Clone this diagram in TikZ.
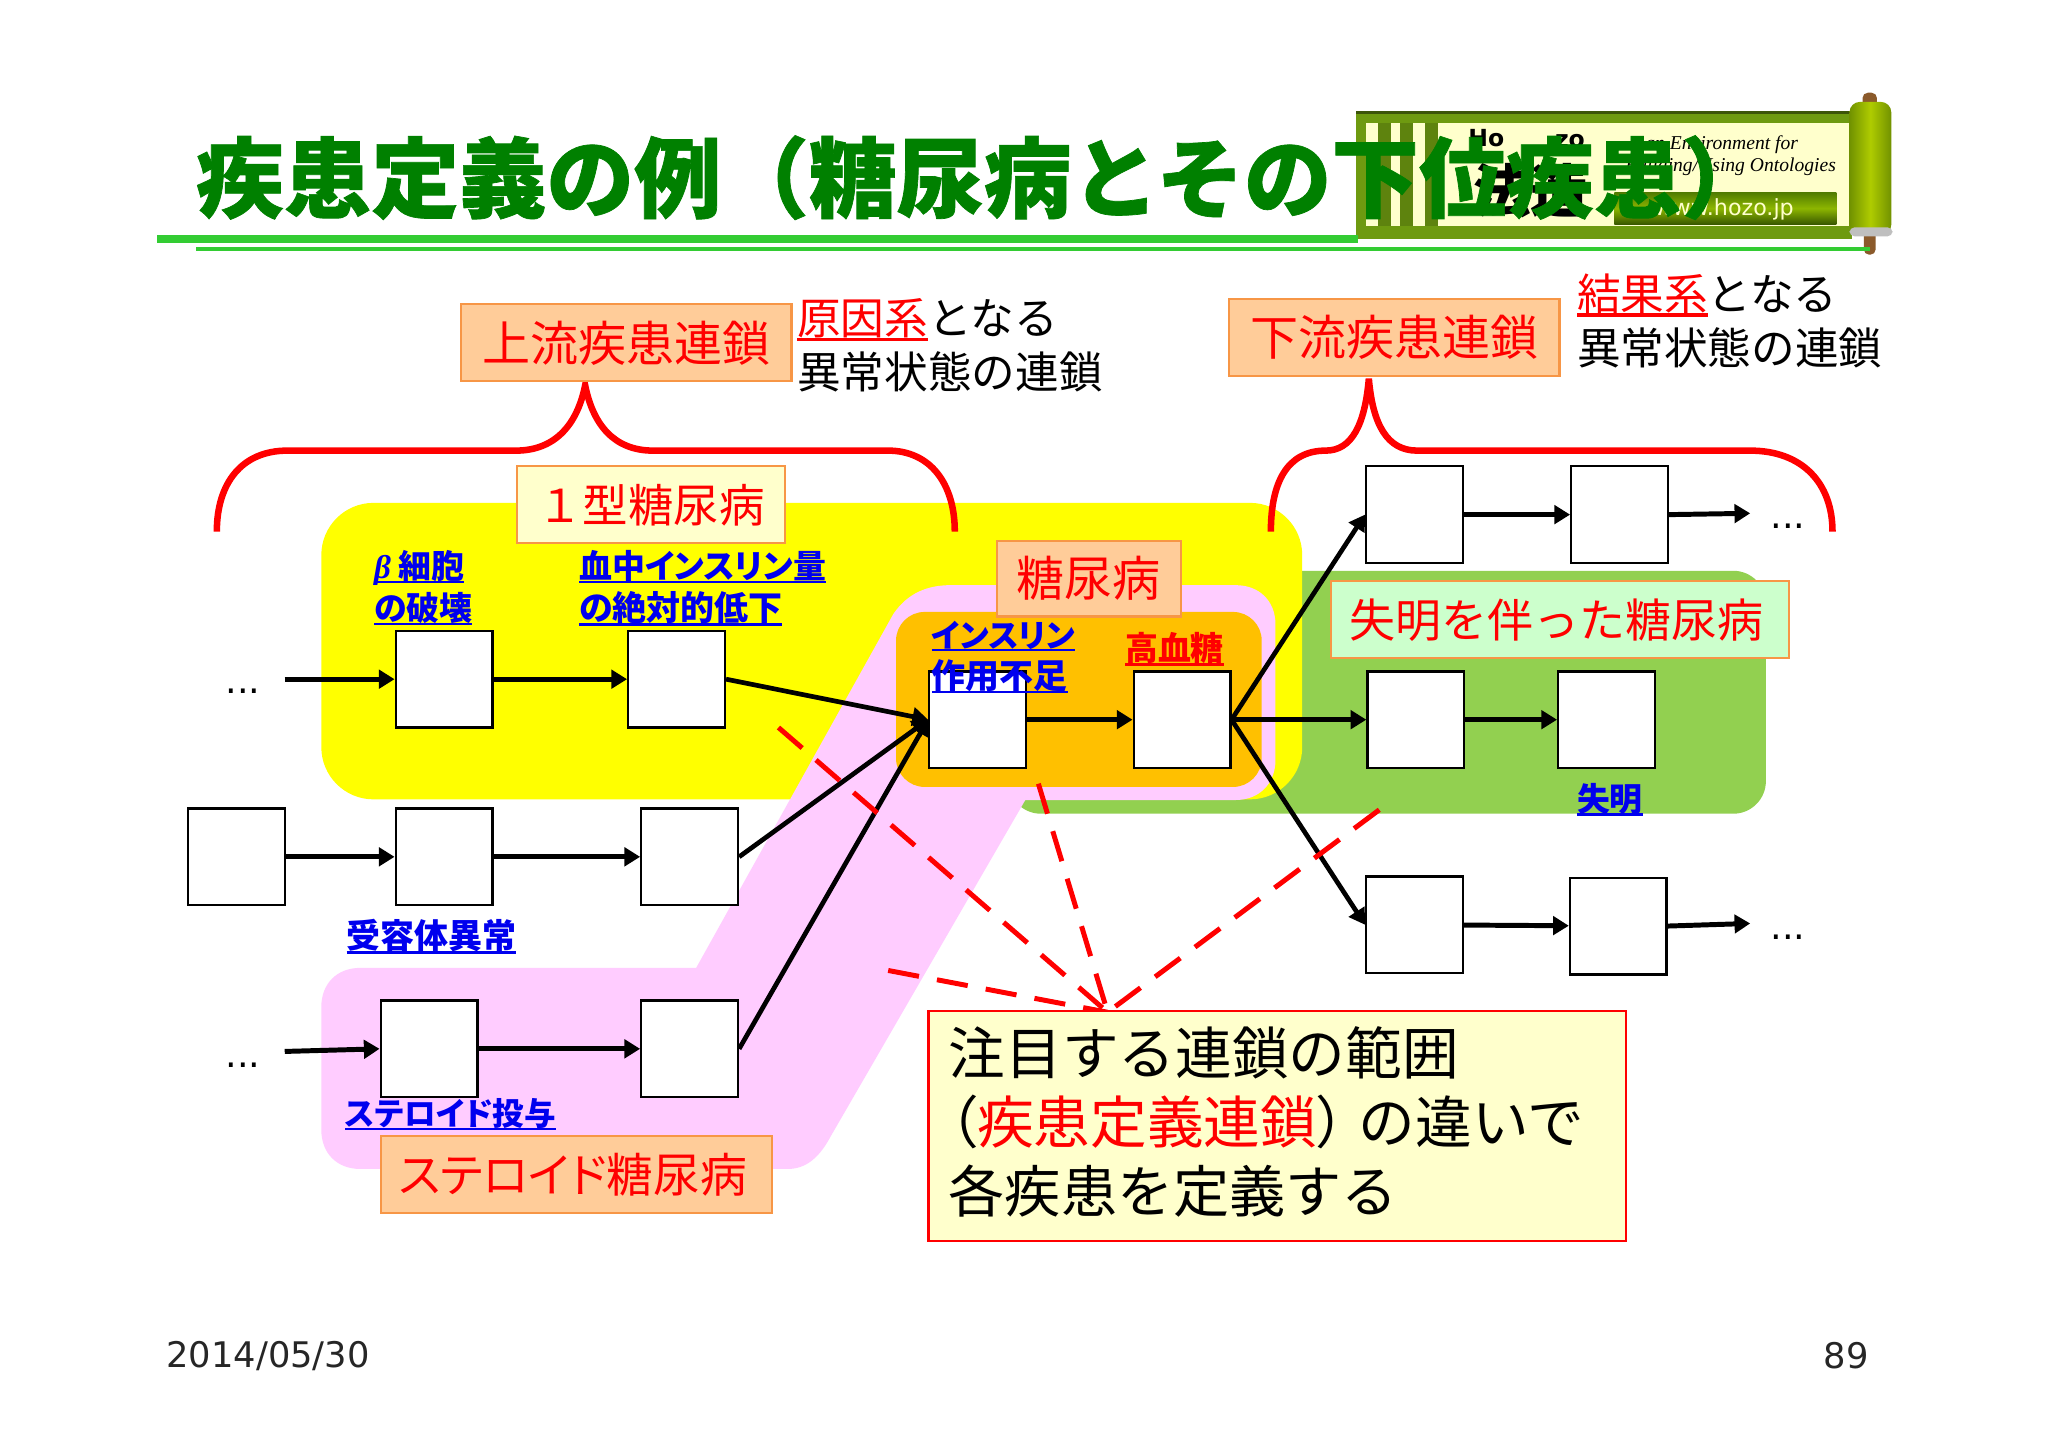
\documentclass[tikz,border=0pt]{standalone}
\usepackage{fontspec}
\usetikzlibrary{arrows.meta,calc}
\setmainfont{Noto Sans CJK JP}
\newfontfamily\jp{Noto Sans CJK JP}
\newfontfamily\ttlfont[BoldFeatures={FakeBold=0.8}]{Noto Sans CJK JP}
\newfontfamily\jpp[CharacterWidth=AlternateProportional]{Noto Sans CJK JP}
\newfontfamily\djv{DejaVu Sans}
\newfontfamily\lserif{Liberation Serif}
\newcommand\ulx[1]{\leavevmode\setbox0\hbox{#1}\rlap{\raisebox{-0.14em}{\rule{\wd0}{0.075em}}}\box0}
\definecolor{cyell}{HTML}{FFFF00}
\definecolor{cgreen}{HTML}{92D050}
\definecolor{cpink}{HTML}{FFCCFF}
\definecolor{corange}{HTML}{FFC000}
\definecolor{clabel}{HTML}{FFCC99}
\definecolor{cedge}{HTML}{F79646}
\definecolor{ccream}{HTML}{FFFFCC}
\definecolor{cmint}{HTML}{CCFFCC}
\definecolor{ctitle}{HTML}{008000}
\definecolor{cline}{HTML}{33CC33}
\definecolor{colive}{HTML}{6E9A10}
\definecolor{croll}{HTML}{8DB600}
\definecolor{cdark}{HTML}{4E7A00}
\definecolor{cblue}{HTML}{0000EE}
\definecolor{crod}{HTML}{8B5A2B}
\tikzset{
  bx/.style={draw=black,fill=white,line width=0.9pt,minimum size=37pt,inner sep=0pt},
  lab/.style={draw=cedge,line width=0.8pt,fill=clabel,inner sep=0pt,text=red,font=\jp\fontsize{18.4}{18.4}\selectfont,align=center},
  blue/.style={text=cblue,font=\jpp\bfseries\fontsize{12.6}{15.5}\selectfont,inner sep=0pt,anchor=west,align=left},
  plain/.style={inner sep=0pt,anchor=west,font=\jp\fontsize{16.7}{20}\selectfont,align=left},
  con/.style={line width=1.9pt,-{Triangle[length=6pt,width=7pt]}},
  dia/.style={line width=1.8pt,-{Triangle[length=6pt,width=7pt]}},
  ref/.style={draw=red,line width=1.9pt,dash pattern=on 12pt off 7pt},
  brace/.style={draw=red,line width=2.5pt},
  dots/.style={inner sep=0pt,anchor=base,font=\djv\fontsize{14}{14}\selectfont},
  foot/.style={inner sep=0pt,text=black!85,font=\djv\fontsize{13.5}{13.5}\selectfont},
}
\begin{document}
\begin{tikzpicture}[x=0.5pt,y=-0.5pt]
\useasboundingbox (0,0) rectangle (1568,1108.6);
\fill[white] (0,0) rectangle (1568,1108.6);

% logo scroll
\fill[colive] (1038,85) rectangle (1418,183);
\fill[ccream] (1046,94) rectangle (1416,173);
\fill[black!45!colive] (1038,85) rectangle (1418,87);
\foreach \bx in {1060,1077,1096}{\fill[colive!85!black] (\bx-5,94) rectangle (\bx+5,173);}
\node[inner sep=0pt,font=\djv\bfseries\fontsize{9}{9}\selectfont] (hoa) at (1138,106) {Ho};
\node[inner sep=0pt,font=\djv\bfseries\fontsize{9}{9}\selectfont] (hob) at (1202,108) {zo};
\node[inner sep=0pt,font=\jp\bfseries\fontsize{22}{22}\selectfont] (hoc) at (1172,146) {法造};
\node[inner sep=0pt,anchor=east,font=\lserif\itshape\fontsize{7.5}{7.5}\selectfont] (hod) at (1377,111) {an Environment for};
\node[inner sep=0pt,anchor=east,font=\lserif\itshape\fontsize{7.5}{7.5}\selectfont] (hoe) at (1406,128) {Building/Using Ontologies};
\shade[top color=cdark,bottom color=cdark!70!black,middle color=croll] (1236,147) rectangle (1406,172);
\node[inner sep=0pt,text=ccream,font=\djv\fontsize{8.5}{8.5}\selectfont] (hof) at (1320,160) {www.hozo.jp};
\fill[crod,rounded corners=2pt] (1426,71) rectangle (1437,84);
\fill[crod,rounded corners=2pt] (1427,176) rectangle (1436,195);
\shade[left color=croll!80!black,right color=croll!80!black,middle color=croll!70!yellow,rounded corners=4pt] (1416,78) rectangle (1448,180);
\fill[black!25,rounded corners=2pt] (1416,174) rectangle (1449,181);

% title and rules
\fill[cline] (120,180) rectangle (1040,186);
\fill[cline] (150,189) rectangle (1432,192);
\node[inner sep=0pt,anchor=west,text=ctitle,font=\ttlfont\bfseries\fontsize{33.5}{34}\selectfont] (title) at (150,136) {疾患定義の例（糖尿病とその下位疾患）};

% regions
\fill[cgreen,rounded corners=12.5pt] (772,437) rectangle (1352,623);
\fill[cyell,rounded corners=20pt] (246,385) rectangle (997,612);
\fill[cpink] (533,741) -- (276,741) .. controls (258,741) and (246,753) .. (246,771) -- (246,865) .. controls (246,883) and (258,895) .. (276,895) -- (603,895) .. controls (618,895) and (628,885) .. (636,870) -- (785,612.5) -- (946,612.5) .. controls (964,612.5) and (976.5,600) .. (976.5,582) -- (976.5,478) .. controls (976.5,460) and (964,448) .. (946,448) -- (728,448) .. controls (710,448) and (695,454) .. (684,470) -- cycle;
\fill[corange,rounded corners=11pt] (686,468.5) rectangle (966,602.5);

% boxes
\node[bx] (n1) at (340,520) {};
\node[bx] (n2) at (518,520) {};
\node[bx] (n3) at (748.5,551) {};
\node[bx] (n4) at (905,551) {};
\node[bx] (r1) at (181,656) {};
\node[bx] (r2) at (340,656) {};
\node[bx] (r3) at (528,656) {};
\node[bx] (s1) at (328.5,803) {};
\node[bx] (s2) at (528,803) {};
\node[bx] (u1) at (1083,394) {};
\node[bx] (u2) at (1240,394) {};
\node[bx] (m1) at (1084,551) {};
\node[bx] (m2) at (1230,551) {};
\node[bx] (d1) at (1083,708) {};
\node[bx] (d2) at (1239,709) {};
\coordinate (a0) at (218,520);
\coordinate (b0) at (218,805);
\coordinate (u3) at (1340,393);
\coordinate (d3) at (1340,707);

% connectors
\draw[con] (a0) -- (n1.west);
\draw[con] (n1) -- (n2);
\draw[con] (r1) -- (r2);
\draw[con] (r2) -- (r3);
\draw[con] (b0) -- (s1.west);
\draw[con] (s1) -- (s2);
\draw[con] (n3) -- (n4);
\draw[con] (u1) -- (u2);
\draw[con] (u2.east) -- (u3);
\draw[con] (m1) -- (m2);
\draw[con] (d1) -- (d2);
\draw[con] (d2.east) -- (d3);
\draw[dia] (n2.east) -- (n3.west);
\draw[dia] (r3.east) -- (n3.west);
\draw[dia] (s2.east) -- (n3.west);
\draw[dia] (n4.east) -- (u1.west);
\draw[dia] (n4.east) -- (m1.west);
\draw[dia] (n4.east) -- (d1.west);

% callout and its dashed leaders
\coordinate (apex) at (848,775);
\coordinate (t1) at (596,557);
\coordinate (t2) at (680,743);
\coordinate (t3) at (795,600);
\coordinate (t4) at (1056,620);
\draw[ref] (t1) -- (apex);
\draw[ref] (t2) -- (apex);
\draw[ref] (t3) -- (apex);
\draw[ref] (t4) -- (apex);
\node[draw=red,line width=0.9pt,fill=ccream,minimum width=267pt,minimum height=88pt,inner sep=0pt] (note) at (978,862) {};
\node[inner sep=0pt,anchor=west,font=\jp\fontsize{21.7}{21.7}\selectfont] (nl1) at (726,806) {注目する連鎖の範囲};
\node[inner sep=0pt,anchor=west,font=\jp\fontsize{21.7}{21.7}\selectfont] (nl2) at (726,859) {{\jpp （}\textcolor{red}{疾患定義連鎖}{\jpp ）}\hspace{5pt}の違いで};
\node[inner sep=0pt,anchor=west,font=\jp\fontsize{21.5}{21.5}\selectfont] (nl3) at (726,912) {各疾患を定義する};

% braces
\draw[brace] (166,407) .. controls (166,370) and (185,345) .. (220,345) -- (395,345) .. controls (425,345) and (442,325) .. (448,295) .. controls (454,325) and (470,345) .. (500,345) -- (680,345) .. controls (712,345) and (731,370) .. (731,407);
\draw[brace] (973,407) .. controls (973,370) and (985,345) .. (1015,345) .. controls (1035,345) and (1045,325) .. (1048,290) .. controls (1051,325) and (1062,345) .. (1085,345) -- (1340,345) .. controls (1380,345) and (1403,370) .. (1403,407);

% labels
\node[lab,minimum width=126.5pt,minimum height=29.5pt] (up) at (479.5,262.5) {上流疾患連鎖};
\node[lab,minimum width=126.5pt,minimum height=29.5pt] (down) at (1067.5,258.5) {下流疾患連鎖};
\node[lab,fill=ccream,minimum width=102.5pt,minimum height=29.5pt,font=\jp\fontsize{17.4}{17.4}\selectfont] (t1d) at (498.5,386.5) {１型糖尿病};
\node[lab,minimum width=70.5pt,minimum height=29pt] (dm) at (833.5,443) {糖尿病};
\node[lab,fill=cmint,minimum width=175.5pt,minimum height=29.5pt,font=\jp\fontsize{17.6}{17.6}\selectfont] (bl) at (1194.5,474.5) {\hspace*{-3pt}失明を伴った糖尿病};
\node[lab,minimum width=149.5pt,minimum height=29.5pt,font=\jpp\fontsize{17.9}{17.9}\selectfont] (st) at (441.5,899.5) {\hspace*{-3pt}ステロイド糖尿病};
\node[plain] (c1) at (610,245) {\textcolor{red}{\ulx{原因系}}となる};
\node[plain] (c2) at (610,285) {異常状態の連鎖};
\node[plain] (e1) at (1207,226) {\textcolor{red}{\ulx{結果系}}となる};
\node[plain] (e2) at (1207,266) {異常状態の連鎖};

% event names
\node[blue] (bb1) at (286,435) {\ulx{{\lserif\itshape β} 細胞}};
\node[blue] (bb2) at (286,466) {\ulx{の破壊}};
\node[blue] (bi1) at (443,434) {\ulx{血中インスリン量}};
\node[blue] (bi2) at (443,466) {\fontsize{13}{15}\selectfont\ulx{の絶対的低下}};
\node[blue] (in1) at (713,487) {\fontsize{12.2}{15}\selectfont\ulx{インスリン}};
\node[blue] (in2) at (713,518) {\fontsize{13}{15}\selectfont\ulx{作用不足}};
\node[blue,text=red] (hg) at (861,497) {\ulx{高血糖}};
\node[blue] (rc) at (265,717) {\fontsize{13}{15}\selectfont\ulx{受容体異常}};
\node[blue] (sd) at (264,853) {\fontsize{12.1}{15}\selectfont\ulx{ステロイド投与}};
\node[blue] (bd) at (1207,612) {\ulx{失明}};

\node[dots] (g1) at (186,531) {...};
\node[dots] (g2) at (186,817) {...};
\node[dots] (g3) at (1369,405) {...};
\node[dots] (g4) at (1369,719) {...};

\node[foot,anchor=west] (date) at (127,1038) {2014/05/30};
\node[foot,anchor=east] (page) at (1431,1038) {89};
\end{tikzpicture}
\end{document}
